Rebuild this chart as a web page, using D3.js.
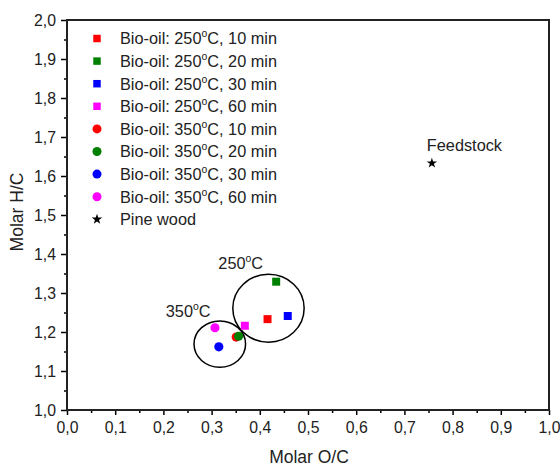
<!DOCTYPE html>
<html><head><meta charset="utf-8">
<script src="https://cdn.jsdelivr.net/npm/d3@7"></script>
<style>body{margin:0;background:#fff}svg{display:block;font-family:"Liberation Sans",Arial,sans-serif}</style>
</head><body><svg id="c" width="560" height="466"></svg>
<script>
const seriesNames = ["Bio-oil: 250|C, 10 min","Bio-oil: 250|C, 20 min","Bio-oil: 250|C, 30 min","Bio-oil: 250|C, 60 min",
  "Bio-oil: 350|C, 10 min","Bio-oil: 350|C, 20 min","Bio-oil: 350|C, 30 min","Bio-oil: 350|C, 60 min","Pine wood"];
const seriesShape = ["square","square","square","square","circle","circle","circle","circle","star"];
const seriesColor = ["#ff0000","#008000","#0000ff","#ff00ff","#ff0000","#008000","#0000ff","#ff00ff","#000000"];
const oc = [0.416, 0.434, 0.458, 0.369, 0.351, 0.356, 0.315, 0.307, 0.757];
const hc = [1.233, 1.329, 1.241, 1.216, 1.187, 1.189, 1.162, 1.211, 1.633];
const groupLabels = ["250|C","350|C"];
const groupCx = [0.418, 0.317];
const groupCy = [1.261, 1.169];
const groupRx = [0.074, 0.0535];
const groupRy = [0.087, 0.0595];
const groupLabelX = [0.314, 0.205];
const groupLabelY = [1.362, 1.238];
const annotText = "Feedstock";
const xTicks = [0,0.1,0.2,0.3,0.4,0.5,0.6,0.7,0.8,0.9,1.0];
const yTicks = [1.0,1.1,1.2,1.3,1.4,1.5,1.6,1.7,1.8,1.9,2.0];

const svg = d3.select("#c");
const L=67, R=549, T=20, B=410;
const x = d3.scaleLinear().domain([0,1]).range([L,R]);
const y = d3.scaleLinear().domain([1,2]).range([B,T]);
const fmt = d => d3.format(".1f")(d).replace(".", ",");
const FS = 16.3, TFS = 15.8, AFS = 17.5;

function addText(sel, str, fs){
  const parts = str.split("|");
  sel.append("tspan").text(parts[0]);
  if(parts.length>1){
    sel.append("tspan").attr("dy",-fs*0.42).attr("font-size",fs*0.64).text("o");
    sel.append("tspan").attr("dy",fs*0.42).text(parts[1]);
  }
}
function styleAxis(g){
  g.select(".domain").remove();
  g.selectAll(".tick line").attr("stroke","#000").attr("stroke-width",1.5);
  g.selectAll(".tick text").attr("font-size",TFS).attr("font-family","Liberation Sans, Arial").attr("fill","#222");
}

// axes
const gx = svg.append("g").attr("transform",`translate(0,${B})`)
  .call(d3.axisBottom(x).tickValues(xTicks).tickFormat(fmt).tickSize(5).tickPadding(7));
styleAxis(gx);
const gxm = svg.append("g").attr("transform",`translate(0,${B})`)
  .call(d3.axisBottom(x).tickValues(d3.range(0.05,1,0.1)).tickFormat("").tickSize(3));
styleAxis(gxm);
const gy = svg.append("g").attr("transform",`translate(${L},0)`)
  .call(d3.axisLeft(y).tickValues(yTicks).tickFormat(fmt).tickSize(6).tickPadding(5));
styleAxis(gy);
const gym = svg.append("g").attr("transform",`translate(${L},0)`)
  .call(d3.axisLeft(y).tickValues(d3.range(1.05,2.0,0.1)).tickFormat("").tickSize(3));
styleAxis(gym);

// frame
svg.append("rect").attr("x",L).attr("y",T).attr("width",R-L).attr("height",B-T)
  .attr("fill","none").attr("stroke","#222").attr("stroke-width",2);

// axis titles
svg.append("text").attr("x",(L+R)/2+1).attr("y",463).attr("text-anchor","middle").attr("font-size",AFS).attr("fill","#222").text("Molar O/C");
svg.append("text").attr("transform",`translate(23,212) rotate(-90)`).attr("text-anchor","middle").attr("font-size",AFS).attr("fill","#222").text("Molar H/C");

// group ellipses
const gg = svg.append("g");
groupCx.forEach((cx,i)=>{
  gg.append("ellipse").attr("cx",x(cx)).attr("cy",y(groupCy[i]))
    .attr("rx",x(groupRx[i])-x(0)).attr("ry",y(1)-y(1+groupRy[i]))
    .attr("fill","none").attr("stroke","#000").attr("stroke-width",1.5);
  const t = gg.append("text").attr("x",x(groupLabelX[i])).attr("y",y(groupLabelY[i])).attr("font-size",FS).attr("fill","#222");
  addText(t, groupLabels[i], FS);
});

// symbols
function sym(shape){
  if(shape==="square") return d3.symbol(d3.symbolSquare, 64)();
  if(shape==="circle") return d3.symbol(d3.symbolCircle, 66)();
  return d3.symbol(d3.symbolStar, 34)();
}
const pts = svg.append("g");
oc.forEach((v,i)=>{
  pts.append("path").attr("d",sym(seriesShape[i])).attr("fill",seriesColor[i])
    .attr("transform",`translate(${x(v)},${y(hc[i])})`);
});
svg.append("text").attr("x",x(oc[8])-5).attr("y",y(hc[8])-12).attr("font-size",FS).attr("fill","#222").text(annotText);

// legend
const lg = svg.append("g");
seriesNames.forEach((n,i)=>{
  const yy = 38.5 + i*22.6;
  const s = seriesShape[i]==="square" ? d3.symbol(d3.symbolSquare, 56)() :
          seriesShape[i]==="circle" ? d3.symbol(d3.symbolCircle, 64)() : d3.symbol(d3.symbolStar, 34)();
  lg.append("path").attr("d",s).attr("fill",seriesColor[i]).attr("transform",`translate(97,${yy})`);
  const t = lg.append("text").attr("x",120).attr("y",yy+5.8).attr("font-size",FS).attr("fill","#222");
  addText(t, n, FS);
});
</script></body></html>
